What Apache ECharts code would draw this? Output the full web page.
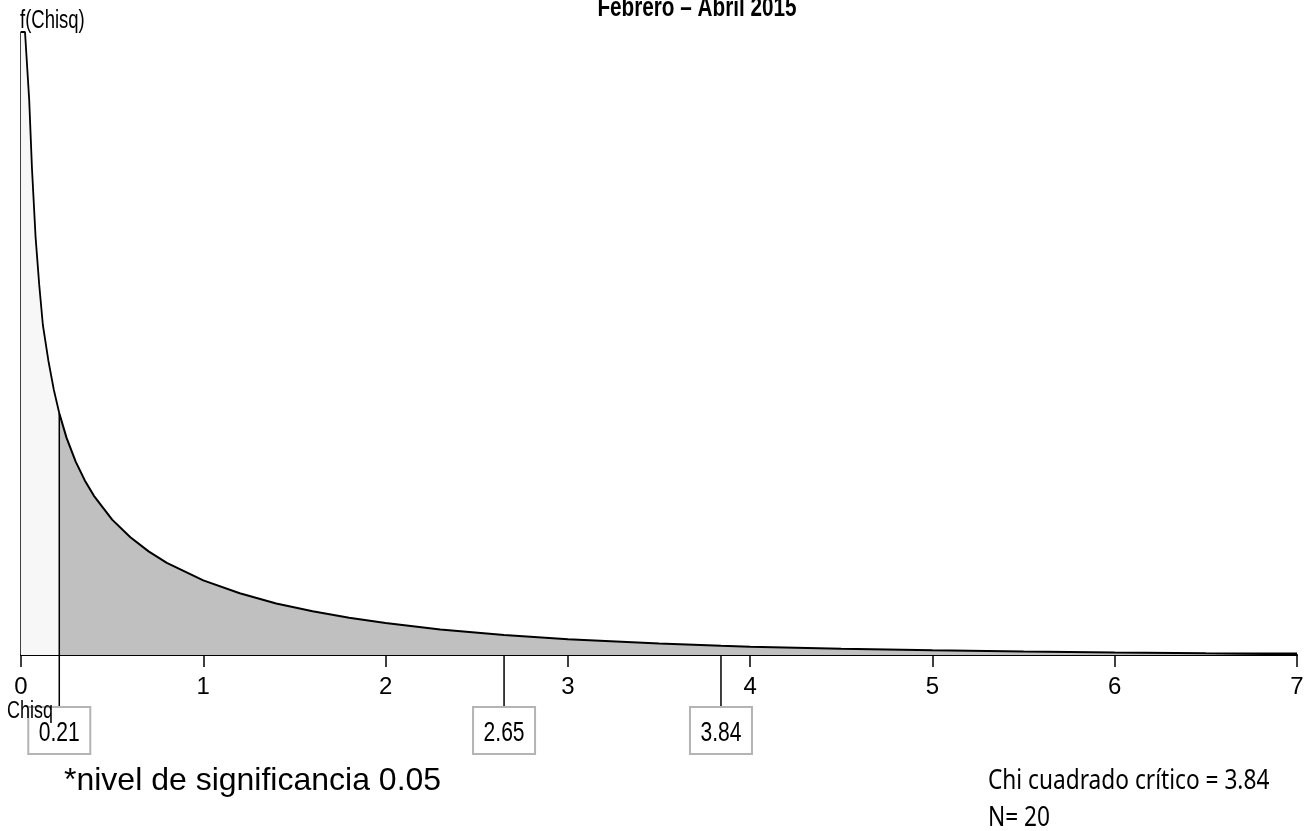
<!DOCTYPE html>
<html>
<head>
<meta charset="utf-8">
<script src="https://cdn.jsdelivr.net/npm/echarts@6/dist/echarts.min.js"></script>
<style>
html,body{margin:0;padding:0;background:#fff;}
#chart{width:1312px;height:831px;}
</style>
</head>
<body>
<div id="chart"></div>
<script>
// Chi-square density
var chisqX   = [0, 0.022, 0.045, 0.06, 0.08, 0.10, 0.12, 0.15, 0.18, 0.21,
                0.25, 0.30, 0.35, 0.40, 0.50, 0.60, 0.70, 0.80, 1.00, 1.20, 1.40, 1.60, 1.80,
                2.00, 2.30, 2.65, 3.00, 3.50, 3.84, 4.00, 4.50, 5.00, 5.50, 6.00, 6.50, 7.00];
var densityY = [2.02, 2.02, 1.80, 1.58, 1.355, 1.20, 1.07, 0.955, 0.86, 0.784,
                0.704, 0.627, 0.566, 0.516, 0.439, 0.382, 0.336, 0.299, 0.242, 0.200, 0.167, 0.142, 0.121,
                0.104, 0.083, 0.065, 0.051, 0.037, 0.030, 0.027, 0.020, 0.015, 0.011, 0.008, 0.006, 0.0046];
var lowerLimit = 0.21;
var markerValues = [0.21, 2.65, 3.84];
var markerTops   = [0.784, 0, 0];
var markerLabels = ['0.21', '2.65', '3.84'];
var xTickValues  = [0, 1, 2, 3, 4, 5, 6, 7];

var leftPart = [], rightPart = [];
for (var i = 0; i < chisqX.length; i++) {
  if (chisqX[i] <= lowerLimit) leftPart.push([chisqX[i], densityY[i]]);
  if (chisqX[i] >= lowerLimit) rightPart.push([chisqX[i], densityY[i]]);
}
var markerData = markerValues.map(function (v, i) { return [v, markerTops[i], markerLabels[i]]; });

var ARIAL = '"Liberation Sans", Arial, sans-serif';
var CAL = '"Noto Sans", "Open Sans", sans-serif';

function scaledText(x, y, text, font, sx, align) {
  return {type: 'text', x: x, y: y, scaleX: sx, z: 10,
    style: {x: 0, y: 0, text: text, fill: '#000', font: font,
            textAlign: align || 'left', textVerticalAlign: 'middle'}};
}

var chart = echarts.init(document.getElementById('chart'), null, {renderer: 'canvas'});
chart.setOption({
  animation: false,
  backgroundColor: '#ffffff',
  grid: {left: 21, right: 15, top: 32, bottom: 176, containLabel: false},
  xAxis: {
    type: 'value', min: 0, max: 7, interval: 1,
    axisLine: {show: true, onZero: false, lineStyle: {color: '#000', width: 2}},
    axisTick: {show: true, length: 12, lineStyle: {color: '#000', width: 1.5}},
    axisLabel: {show: true, margin: 20, color: '#000', fontSize: 24, fontFamily: ARIAL,
      showMinLabel: true, showMaxLabel: true,
      formatter: function (v) { return xTickValues.indexOf(v) >= 0 ? String(v) : ''; }},
    splitLine: {show: false}
  },
  yAxis: {
    type: 'value', min: 0, max: 2.02,
    axisLine: {show: true, lineStyle: {color: '#000', width: 1.5}},
    axisTick: {show: false}, axisLabel: {show: false}, splitLine: {show: false}
  },
  series: [
    {
      type: 'line', data: leftPart, symbol: 'none', smooth: false, clip: true,
      lineStyle: {color: '#000', width: 1.8},
      areaStyle: {color: '#f7f7f7', opacity: 1, origin: 'start'},
      z: 2
    },
    {
      type: 'line', data: rightPart, symbol: 'none', smooth: false, clip: true,
      lineStyle: {color: '#000', width: 2},
      areaStyle: {color: '#c0c0c0', opacity: 1, origin: 'start'},
      z: 2
    },
    {
      type: 'custom', clip: false, z: 5,
      data: markerData,
      renderItem: function (params, api) {
        var top = api.coord([api.value(0), api.value(1)]);
        var base = api.coord([api.value(0), 0]);
        var boxTop = base[1] + 52, bw = 62, bh = 47;
        return {
          type: 'group',
          children: [
            {type: 'line', shape: {x1: top[0], y1: top[1], x2: top[0], y2: boxTop},
             style: {stroke: '#000', lineWidth: 1.5}},
            {type: 'rect', shape: {x: base[0] - bw / 2, y: boxTop, width: bw, height: bh},
             style: {fill: 'rgba(255,255,255,0)', stroke: '#b4b4b4', lineWidth: 2}},
            {type: 'text', x: base[0], y: boxTop + bh / 2 + 3, scaleX: 0.78,
             style: {x: 0, y: 0, text: api.value(2),
             fill: '#000', font: '27px ' + ARIAL, textAlign: 'center', textVerticalAlign: 'middle'}}
          ]
        };
      }
    }
  ],
  graphic: [
    scaledText(697, 8, 'Febrero – Abril 2015', 'bold 28px ' + ARIAL, 0.74, 'center'),
    scaledText(20, 21, 'f(Chisq)', '25px ' + ARIAL, 0.74),
    scaledText(7, 712, 'Chisq', '23px ' + ARIAL, 0.78),
    scaledText(64, 781, '*nivel de significancia 0.05', '32px ' + ARIAL, 1),
    scaledText(988, 781, 'Chi cuadrado crítico = 3.84', '27px ' + CAL, 0.84),
    scaledText(988, 818, 'N= 20', '27px ' + CAL, 0.84)
  ]
});
</script>
</body>
</html>
